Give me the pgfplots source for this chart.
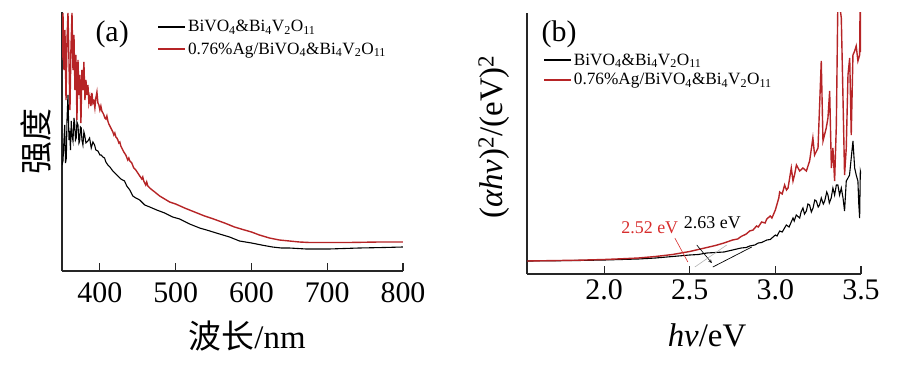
\documentclass[border=0pt]{standalone}
\usepackage{fontspec}
\setmainfont{Liberation Serif}
\newfontfamily\cjk{Noto Sans CJK SC}
\usepackage{pgfplots}
\pgfplotsset{compat=1.18}
\definecolor{myred}{RGB}{182,36,38}
\definecolor{lblred}{RGB}{215,45,45}
\newcommand{\cmpA}{BiVO\textsubscript{4}\&Bi\textsubscript{4}V\textsubscript{2}O\textsubscript{11}}
\newcommand{\cmpB}{0.76\%Ag/BiVO\textsubscript{4}\&Bi\textsubscript{4}V\textsubscript{2}O\textsubscript{11}}
\begin{document}
\begin{tikzpicture}
\useasboundingbox (0bp,0bp) rectangle (898bp,372bp);
\pgfplotsset{
  every axis/.append style={
    scale only axis,
    axis x line=bottom, axis y line=left,
    axis line style={-, line width=1.1bp, black!85},
    tick align=inside,
    major tick length=8bp,
    tick style={line width=1.1bp, black!85},
    ytick=\empty,
    ymin=0,
    /pgf/number format/assume math mode=true,
    tick label style={font=\fontsize{30}{32}\selectfont},
    label style={font=\fontsize{33}{35}\selectfont},
    legend style={draw=none, fill=none, inner sep=0pt, font=\fontsize{17.3}{19}\selectfont, anchor=north west, cells={anchor=west}},
    legend image code/.code={\draw[#1, line width=1.7bp] (0bp,0bp) -- (27bp,0bp);},
  }
}
% ---------------- (a) ----------------
\begin{axis}[at={(62bp,101bp)}, anchor=south west, width=341bp, height=259bp,
  xmin=350, xmax=800, ymax=259, xtick={400,500,600,700,800},
  xticklabel style={yshift=-8bp},
  xlabel={{\cjk 波长}/nm},
  xlabel style={at={(axis description cs:0.543,0)}, anchor=center, yshift=-65bp},
  ylabel={\cjk 强度},
  ylabel style={at={(axis description cs:-0.076,0.5)}, anchor=center},
  legend style={at={(axis description cs:0.279,0.976)}, row sep=5.4bp}]
\addplot[black, line width=1.1bp] table {
350 106
351.3 110
352.6 131
353.6 146
354.6 108
355.7 113
356.6 151
357.9 176
359.2 131
360.1 140
361.2 121
362.2 150
363.2 136
364.5 130
365.8 153
366.7 148
367.8 131
368.8 133
369.7 149
371.1 146
372.4 128
373.3 130
374.3 144
375.4 143
376.3 131
377.6 126
378.9 139
379.9 136
381.6 128
384.2 130
386.4 133
388.6 123
390.8 129
393.0 126
394.7 121
397.4 120
400.0 116
401.7 116
403.9 114
406.2 113
407.9 109
410.5 106
413.2 104
417.1 100
419.7 98
423.7 95
427.6 92
432.5 90
435.5 85
439.5 81
443.4 75
447.4 73
452.6 71
459.2 66
465.8 64
475.0 61
485.5 58
496.1 54
505.3 52
518.4 47
531.6 43
540.8 41
557.9 37
571.1 34
584.2 30
600 28
613.2 26
627.6 24
639.5 23
650 23
672.4 22
702.6 22
742.1 23
775 23.5
800 24
};
\addlegendentry{\cmpA}
\addplot[myred, line width=1.4bp] table {
350 211
351.3 258
352.6 201
353.9 241
355.3 171
356.6 231
357.9 258
359.2 211
360.5 161
361.8 221
363.2 258
364.5 201
365.8 236
367.1 181
368.4 216
369.7 151
371.1 211
372.4 176
373.7 196
375.0 148
376.3 201
377.6 181
378.9 209
380.3 171
381.6 191
382.9 176
384.2 186
385.5 168
386.8 174
388.2 165
389.5 178
390.8 168
392.1 170
393.4 163
394.7 173
396.1 179
397.4 168
398.7 166
400.0 161
401.3 165
402.6 160
404.0 158
405.3 156
406.6 153
407.9 152
409.2 155
410.5 150
411.8 147
413.2 145
414.5 143
415.8 141
417.1 139
418.4 136
419.7 138
421.1 134
422.4 133
423.7 131
425.0 128
426.3 129
427.6 125
428.9 123
431.6 119
434.2 116
436.8 111
438.2 113
439.5 110
442.1 108
444.7 103
447.4 101
450.0 98
452.6 95
455.3 92
456.6 94
457.9 90
460.5 86
461.8 89
463.2 85
465.8 83
469 81
472.4 79
478.9 75
485.5 72
492.1 69
500 67
511.8 63
525 59
538.2 55
550 52
564.5 48
577.6 44
590.8 41
600 39
610.5 36
623.7 33
636.8 31
650 30
663.2 29
676.3 28.5
700 28.5
728.9 28.5
768.4 29
800 29
};
\addlegendentry{\cmpB}
\node[font=\fontsize{30}{32}\selectfont] at (rel axis cs:0.147,0.915) {(a)};
\end{axis}
% ---------------- (b) ----------------
\begin{axis}[at={(527bp,98bp)}, anchor=south west, width=334bp, height=261bp,
  xmin=1.55, xmax=3.5, ymax=261,
  xtick={2.0,2.5,3.0,3.5}, xticklabels={2.0,2.5,3.0,3.5},
  xticklabel style={yshift=-2bp},
  xlabel={\textit{hv}/eV},
  xlabel style={at={(axis description cs:0.539,0)}, anchor=center, yshift=-61bp},
  ylabel={(\textit{αhv})\textsuperscript{2}/(eV)\textsuperscript{2}},
  ylabel style={at={(axis description cs:-0.099,0.525)}, anchor=center},
  legend style={at={(axis description cs:0.048,0.852)}, row sep=2.6bp}]
\addplot[black, line width=1.1bp] table {
1.55 13
1.70 13.2
1.85 13.5
2.00 14
2.10 14.5
2.20 15
2.30 16
2.40 17.5
2.50 19
2.55 19.5
2.60 21
2.65 21.5
2.70 22
2.75 24
2.80 26
2.83 26.5
2.85 28
2.88 29
2.90 31
2.92 31.5
2.95 34
2.97 34.5
3.00 39
3.01 38
3.025 43
3.04 42
3.064 49
3.08 47
3.103 56
3.11 53
3.122 59
3.142 56
3.15 62
3.161 66
3.17 60
3.181 63
3.19 70
3.200 69
3.21 62
3.220 66
3.23 74
3.239 73
3.25 67
3.258 69
3.268 76
3.28 70
3.288 73
3.30 82
3.307 79
3.315 71
3.326 76
3.336 86
3.346 79
3.356 89
3.365 89
3.375 79
3.385 86
3.395 76
3.404 63
3.414 93
3.424 96
3.433 99
3.443 116
3.453 133
3.463 106
3.472 99
3.482 93
3.487 70
3.492 56
3.496 103
3.5 100
};
\addlegendentry{\cmpA}
\addplot[myred, line width=1.4bp] table {
1.55 13
1.70 13.4
1.85 13.8
2.00 14.5
2.10 15.2
2.20 16
2.30 17.5
2.40 19.5
2.50 22.5
2.55 24.5
2.60 26.5
2.65 28.5
2.70 31
2.75 34
2.78 35
2.80 37.5
2.83 40
2.85 43
2.87 44
2.89 48
2.90 47
2.92 52
2.94 51
2.95 55
2.97 58
2.98 56
3.00 64
3.01 70
3.02 76
3.025 82
3.04 80
3.054 89
3.065 84
3.074 86
3.093 106
3.103 93
3.113 100
3.123 109
3.142 103
3.161 106
3.181 103
3.200 113
3.219 136
3.229 119
3.249 126
3.268 213
3.278 133
3.297 146
3.307 156
3.317 183
3.327 106
3.336 126
3.346 93
3.356 149
3.365 275
3.375 270
3.385 256
3.394 183
3.404 99
3.414 126
3.424 199
3.434 216
3.443 139
3.453 219
3.463 223
3.472 228
3.482 213
3.492 219
3.495 275
3.5 222
};
\addlegendentry{\cmpB}
\node[font=\fontsize{30}{32}\selectfont] at (rel axis cs:0.096,0.920) {(b)};
\node[text=lblred, font=\fontsize{18}{20}\selectfont] at (axis cs:2.267,46) {2.52 eV};
\node[font=\fontsize{18}{20}\selectfont] at (axis cs:2.632,51) {2.63 eV};
\draw[lblred, line width=0.6bp] (axis cs:2.413,36) -- (axis cs:2.489,12);
\draw[black, line width=0.6bp, -stealth] (axis cs:2.541,29) -- (axis cs:2.629,11);
\draw[black, line width=0.7bp] (axis cs:2.635,7) -- (axis cs:2.862,27);
\draw[gray!60, line width=0.6bp] (axis cs:2.530,7) -- (axis cs:2.716,29);
\end{axis}
\end{tikzpicture}
\end{document}
